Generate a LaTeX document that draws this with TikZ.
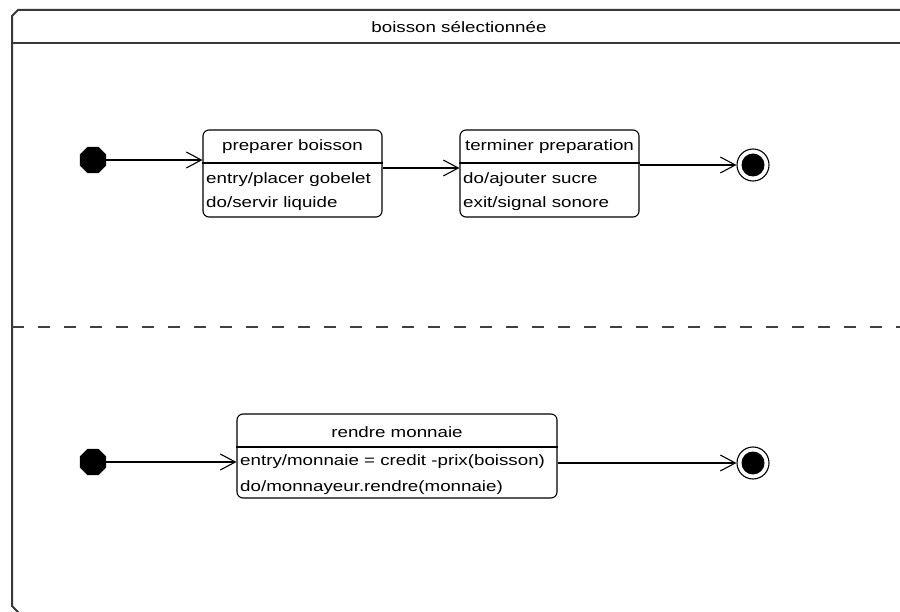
\documentclass[tikz,border=0pt]{standalone}
\usepackage{fontspec}
\setmainfont{Liberation Sans}[FakeStretch=1.25]
\usetikzlibrary{arrows.meta,shapes.geometric}

\begin{document}
\begin{tikzpicture}[x=1pt,y=-1pt,
  font=\fontsize{15}{18}\selectfont,
  frameline/.style={draw=black!78,line width=2pt},
  regionsep/.style={draw=black!75,line width=2pt,dash pattern=on 12pt off 14pt},
  statebox/.style={rectangle,rounded corners=6pt,draw=black,line width=1.1pt,inner sep=0pt},
  initstate/.style={regular polygon,regular polygon sides=8,fill=black,
    draw=black,minimum size=28pt,inner sep=0pt},
  finalring/.style={circle,draw=black,line width=1.1pt,minimum size=32pt,inner sep=0pt},
  finaldot/.style={circle,fill=black,minimum size=23pt,inner sep=0pt},
  trans/.style={draw=black,line width=1.1pt,
    -{Straight Barb[length=15pt,width=16pt,line width=1.1pt]}},
  label/.style={inner sep=0pt,anchor=west},
  heading/.style={inner sep=0pt}
]
\useasboundingbox (0,0) rectangle (900,612);

% composite state frame
\draw[frameline] (905,10) -- (18,10) -- (12,16) -- (12,606) -- (19,613) -- (905,613);
\draw[frameline] (12,43) -- (905,43);
\node[heading] (title) at (459,27) {boisson sélectionnée};

% separator of the two concurrent regions
\draw[regionsep] (12,327) -- (905,327);

% ---- upper region
\node[initstate] (i1) at (93,160) {};
\node[statebox,minimum width=179pt,minimum height=87pt] (b1) at (292.5,173.5) {};
\draw[line width=1.1pt] (b1.west |- 0,163) -- (b1.east |- 0,163);
\node[heading] (b1t) at (292.5,147) {preparer boisson};
\node[label] (b1a) at (206,180) {entry/placer gobelet};
\node[label] (b1b) at (206,204) {do/servir liquide};

\node[statebox,minimum width=179pt,minimum height=87pt] (b2) at (549.5,173.5) {};
\draw[line width=1.1pt] (b2.west |- 0,163) -- (b2.east |- 0,163);
\node[heading] (b2t) at (549.5,147) {terminer preparation};
\node[label] (b2a) at (463,180) {do/ajouter sucre};
\node[label] (b2b) at (463,204) {exit/signal sonore};

\node[finalring] (f1) at (753,165) {};
\node[finaldot] at (f1) {};

\draw[trans] (i1.east) -- (i1 -| b1.west);
\draw[trans] ([yshift=5.5pt]b1.east) coordinate (a1) -- (a1 -| b2.west);
\draw[trans] (f1 -| b2.east) -- (f1.west);

% ---- lower region
\node[initstate] (i2) at (93,462) {};
\node[statebox,minimum width=320pt,minimum height=84pt] (b3) at (397,456) {};
\draw[line width=1.1pt] (b3.west |- 0,447) -- (b3.east |- 0,447);
\node[heading] (b3t) at (397,432) {rendre monnaie};
\node[label] (b3a) at (240,462) {entry/monnaie = credit -prix(boisson)};
\node[label] (b3b) at (240,488) {do/monnayeur.rendre(monnaie)};

\node[finalring] (f2) at (753,463) {};
\node[finaldot] at (f2) {};

\draw[trans] (i2.east) -- (i2 -| b3.west);
\draw[trans] (f2 -| b3.east) -- (f2.west);
\end{tikzpicture}
\end{document}
